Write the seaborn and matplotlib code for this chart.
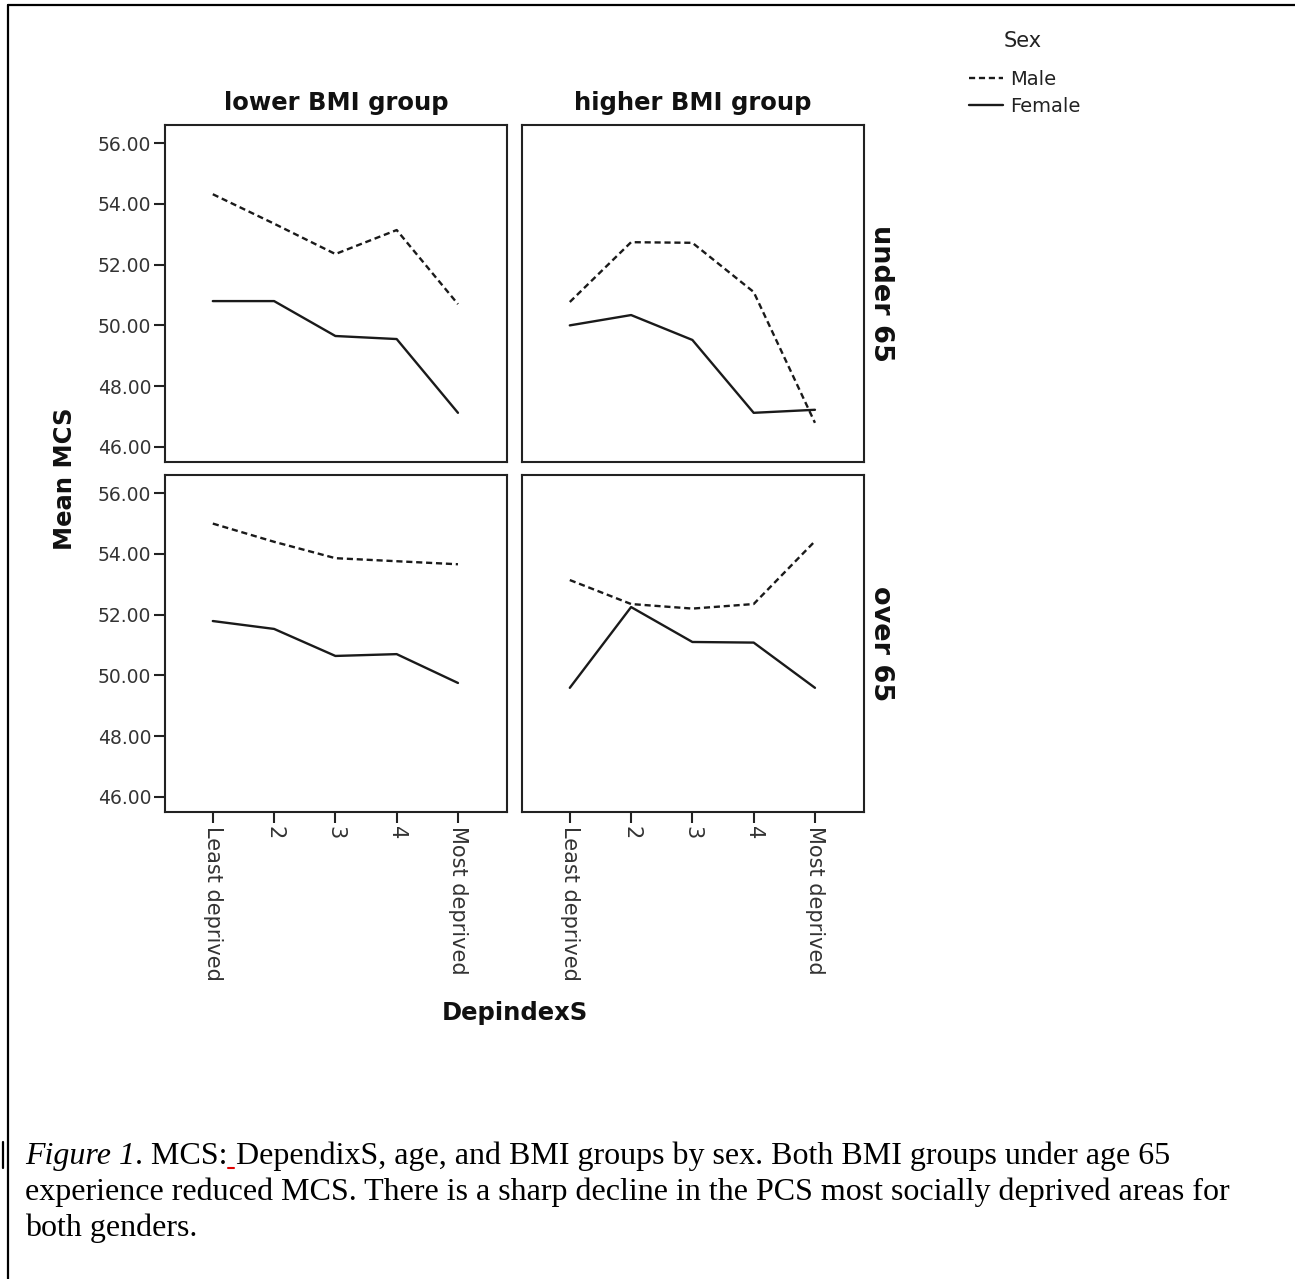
import numpy as np
import pandas as pd
import matplotlib
matplotlib.use("Agg")
import matplotlib.pyplot as plt
from matplotlib.lines import Line2D
import seaborn as sns

W, H = 1295, 1279

# deprivation quintiles on the x axis
dep_labels = ["Least deprived", "2", "3", "4", "Most deprived"]
bmi_groups = ["lower BMI group", "higher BMI group"]
age_groups = ["under 65", "over 65"]
sexes = ["Male", "Female"]

# mean MCS
under65_lower_male = [54.32, 53.35, 52.35, 53.14, 50.70]
under65_lower_female = [50.80, 50.80, 49.65, 49.55, 47.12]
under65_higher_male = [50.77, 52.74, 52.72, 51.10, 46.79]
under65_higher_female = [50.00, 50.34, 49.52, 47.12, 47.22]
over65_lower_male = [55.00, 54.40, 53.86, 53.76, 53.66]
over65_lower_female = [51.79, 51.53, 50.64, 50.70, 49.75]
over65_higher_male = [53.14, 52.35, 52.20, 52.35, 54.42]
over65_higher_female = [49.59, 52.25, 51.10, 51.08, 49.59]

series = {
    ("under 65", "lower BMI group", "Male"): under65_lower_male,
    ("under 65", "lower BMI group", "Female"): under65_lower_female,
    ("under 65", "higher BMI group", "Male"): under65_higher_male,
    ("under 65", "higher BMI group", "Female"): under65_higher_female,
    ("over 65", "lower BMI group", "Male"): over65_lower_male,
    ("over 65", "lower BMI group", "Female"): over65_lower_female,
    ("over 65", "higher BMI group", "Male"): over65_higher_male,
    ("over 65", "higher BMI group", "Female"): over65_higher_female,
}

rows = []
for (age, bmi, sex), vals in series.items():
    for i, v in enumerate(vals):
        rows.append({"age": age, "bmi": bmi, "Sex": sex, "dep": i, "mcs": v})
df = pd.DataFrame(rows)

sns.set_theme(style="ticks")
plt.rcParams["font.family"] = ["DejaVu Sans"]
plt.rcParams["axes.edgecolor"] = "#222222"
plt.rcParams["axes.linewidth"] = 1.5
plt.rcParams["xtick.major.size"] = 8
plt.rcParams["ytick.major.size"] = 8
plt.rcParams["xtick.major.width"] = 1.5
plt.rcParams["ytick.major.width"] = 1.5
plt.rcParams["xtick.color"] = "#222222"
plt.rcParams["ytick.color"] = "#222222"

g = sns.relplot(
    data=df, x="dep", y="mcs", kind="line",
    row="age", col="bmi", row_order=age_groups, col_order=bmi_groups,
    style="Sex", style_order=sexes,
    dashes={"Male": (2.6, 1.6), "Female": ""},
    color="#1a1a1a", linewidth=1.7,
    height=4, aspect=1,
    facet_kws=dict(margin_titles=True, despine=False),
)

fig = g.figure
fig.set_size_inches(W / 100, H / 100)
fig.subplots_adjust(left=165 / W, right=864 / W, top=1 - 125 / H,
                    bottom=1 - 812 / H, wspace=15 / 342, hspace=13 / 337)

g.set_titles(col_template="{col_name}", row_template="")
for ax in g.axes[0]:
    ax.set_title(ax.get_title(), fontsize=17.5, fontweight="bold",
                 color="#111111", pad=11)
# clear margin texts and draw row labels ourselves
for ax in g.axes.flat:
    for t in list(ax.texts):
        t.remove()
for ax, age in zip(g.axes[:, 1], age_groups):
    ax.text(1.012, 0.5, age, transform=ax.transAxes, rotation=270,
            ha="left", va="center", fontsize=19.5, fontweight="bold",
            color="#111111")

g.set_axis_labels("", "")
for ax in g.axes.flat:
    ax.set_xlim(-0.78, 4.8)
    ax.set_ylim(45.5, 56.6)
    ax.set_yticks(np.arange(46, 57, 2))
    ax.set_yticklabels([f"{v:.2f}" for v in np.arange(46, 57, 2)],
                       fontsize=13.5, color="#333333")
    ax.set_xticks(range(len(dep_labels)))
    ax.set_xticklabels(dep_labels, rotation=-90, fontsize=15,
                       color="#333333")
    ax.tick_params(axis="both", pad=2)
    ax.grid(False)
# only the outer panels carry ticks
for ax in g.axes[:, 1]:
    ax.tick_params(axis="y", left=False, labelleft=False)
for ax in g.axes[0]:
    ax.tick_params(axis="x", bottom=False, labelbottom=False)

fig.text(65 / W, 1 - 479 / H, "Mean MCS", rotation=90, ha="center",
         va="center", fontsize=17.5, fontweight="bold", color="#111111")
fig.text(515 / W, 1 - 1013 / H, "DepindexS", ha="center", va="center",
         fontsize=17.5, fontweight="bold", color="#111111")

sns.move_legend(g, "upper left", bbox_to_anchor=(969 / W, 1 - 70 / H),
                title=None, frameon=False, fontsize=14,
                handlelength=1.75, handletextpad=0.38, borderpad=0,
                borderaxespad=0, labelspacing=0.4)
for line in g.legend.get_lines():
    line.set_linewidth(1.7)
    line.set_color("#1a1a1a")
for txt in g.legend.get_texts():
    txt.set_color("#222222")
fig.text(1023 / W, 1 - 41 / H, "Sex", ha="center", va="center",
         fontsize=15, color="#222222")

# page border
fig.add_artist(Line2D([8 / W, 8 / W], [0, 1 - 5 / H], color="black",
                      lw=1.6, transform=fig.transFigure))
fig.add_artist(Line2D([8 / W, 1], [1 - 5 / H, 1 - 5 / H], color="black",
                      lw=1.6, transform=fig.transFigure))
fig.add_artist(Line2D([2.5 / W, 2.5 / W], [1 - 1142 / H, 1 - 1168 / H],
                      color="black", lw=1.6, transform=fig.transFigure))

# caption
cap = dict(family=["Liberation Serif"], fontsize=23, color="black",
           va="baseline")
fig.canvas.draw()
r = fig.canvas.get_renderer()
inv = fig.transFigure.inverted()
x0, y1 = 25 / W, 1 - 1164 / H
t1 = fig.text(x0, y1, "Figure 1", style="italic", **cap)
xe = inv.transform(t1.get_window_extent(r))[1][0]
t2 = fig.text(xe, y1, ". MCS:", **cap)
xe2 = inv.transform(t2.get_window_extent(r))[1][0]
fig.text(xe2, y1, " DependixS, age, and BMI groups by sex. Both BMI groups under age 65", **cap)
fig.add_artist(Line2D([xe2 + 0.0005, xe2 + 6 / W], [1 - 1168 / H] * 2,
                      color="#e00000", lw=1.5, transform=fig.transFigure))
fig.text(x0, 1 - 1200 / H, "experience reduced MCS. There is a sharp decline in the PCS most socially deprived areas for", **cap)
fig.text(x0, 1 - 1236 / H, "both genders.", **cap)

fig.savefig("out.png", dpi=100)
